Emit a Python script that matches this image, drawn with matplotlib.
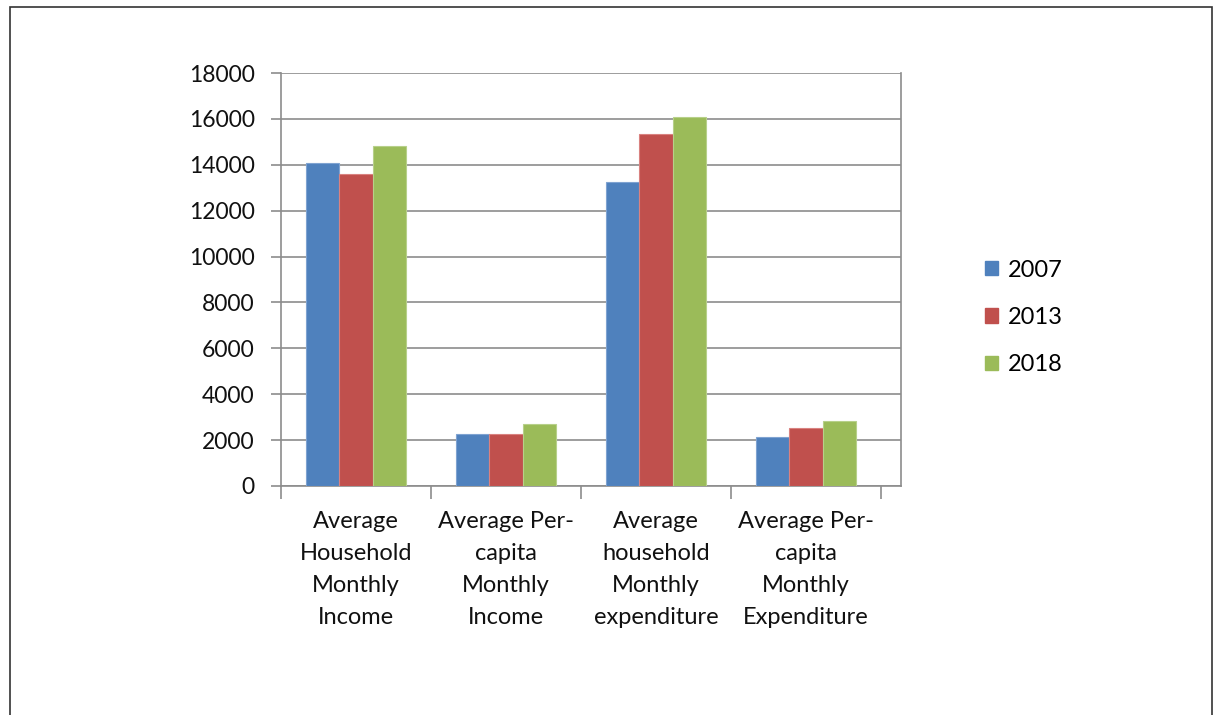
import matplotlib.pyplot as plt
import numpy as np
from matplotlib.patches import Patch, Rectangle

categories = [
    "Average\nHousehold\nMonthly\nIncome",
    "Average Per-\ncapita\nMonthly\nIncome",
    "Average\nhousehold\nMonthly\nexpenditure",
    "Average Per-\ncapita\nMonthly\nExpenditure",
]
years = ["2007", "2013", "2018"]
values_2007 = [14070, 2250, 13230, 2130]
values_2013 = [13580, 2250, 15360, 2520]
values_2018 = [14800, 2700, 16070, 2850]
colors = ["#4F81BD", "#C0504D", "#9BBB59"]
edges = ["#7FA3D1", "#D98280", "#B7D08A"]

plt.rcParams['font.family'] = ['Lato', 'DejaVu Sans']
grid_c = "#8C8C8C"

fig = plt.figure(figsize=(12.15, 7.15), dpi=100)
ax = fig.add_axes([281 / 1215, 1 - 486 / 715, 620 / 1215, 413 / 715])

x = np.arange(len(categories))
w = 1 / 4.5
series = [values_2007, values_2013, values_2018]
for i, vals in enumerate(series):
    ax.bar(x + (i - 1) * w, vals, width=w, color=colors[i],
           edgecolor=edges[i], linewidth=0.8, zorder=3)

# category axis spans 600 px of the 620 px plot area
ax.set_xlim(-0.5, -0.5 + 4 * 620 / 600)
ax.set_ylim(0, 18000)
ax.set_yticks(np.arange(0, 18001, 2000))
ax.yaxis.grid(True, color=grid_c, linewidth=1.2, zorder=0)
ax.tick_params(axis="y", labelsize=16.5, length=7, color=grid_c,
               width=1.2, pad=12, labelcolor="#111111")

ax.set_xticks(np.arange(-0.5, 3.6, 1))
ax.set_xticklabels([])
ax.tick_params(axis="x", length=9, color=grid_c, width=1.2)
ax.set_xticks(x, minor=True)
ax.set_xticklabels(categories, minor=True, fontsize=17, color="#111111",
                   linespacing=1.64)
ax.tick_params(axis="x", which="minor", length=0, pad=18)

ax.spines["top"].set_visible(False)
for s in ["left", "bottom", "right"]:
    ax.spines[s].set_color(grid_c)
    ax.spines[s].set_linewidth(1.2)

handles = [Patch(facecolor=c, edgecolor=c) for c in colors]
fig.legend(handles, years, loc="center left", bbox_to_anchor=(0.7935, 0.556),
           frameon=False, fontsize=17, handlelength=0.55, handleheight=0.55,
           handletextpad=0.4, labelspacing=1.12)

fig.patches.append(Rectangle((10 / 1215, -0.05), 1202 / 1215, 1.05 - 7 / 715,
                             transform=fig.transFigure, fill=False,
                             edgecolor="#333333", linewidth=1.2))

fig.savefig("out.png", dpi=100)
